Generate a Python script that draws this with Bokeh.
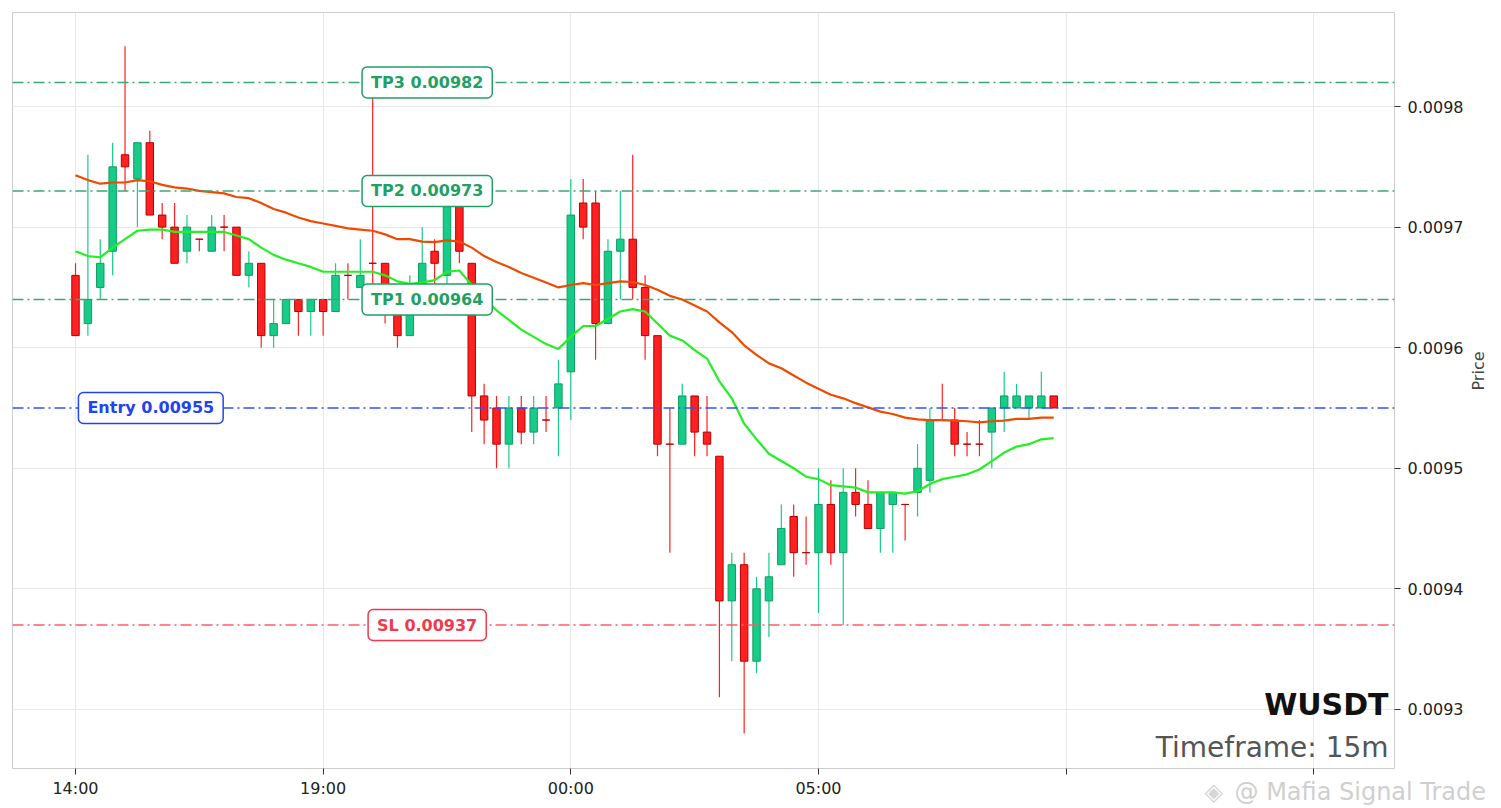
import math

import numpy as np
import pandas as pd
from bokeh.plotting import figure
from bokeh.models import ColumnDataSource, Range1d, Span, Label, FixedTicker, NumeralTickFormatter
from bokeh.embed import file_html
from bokeh.resources import INLINE


symbol = "WUSDT"
timeframe = "15m"
start = "2025-01-20 14:00"

# OHLC, in units of 0.00001
opens = [966, 962, 965, 968, 976, 974, 977, 971, 970, 968,
         969, 968, 970, 970, 966, 967, 961, 962, 964, 963,
         964, 963, 966, 965, 967, 967, 963, 961, 965, 968,
         966, 972, 967, 956, 955, 952, 955, 953, 954, 955,
         958, 972, 972, 962, 968, 969, 965, 961, 952, 952,
         956, 953, 951, 939, 942, 934, 939, 942, 946, 943,
         943, 947, 943, 948, 947, 945, 947, 947, 948, 949,
         954, 954, 952, 952, 953, 955, 955, 955, 955, 956]
highs = [967, 976, 969, 977, 985, 977, 978, 972, 972, 971,
         969, 971, 971, 970, 968, 967, 964, 964, 964, 964,
         964, 967, 967, 969, 981, 967, 963, 966, 970, 969,
         974, 973, 967, 957, 956, 956, 956, 956, 956, 959,
         974, 974, 973, 969, 973, 976, 966, 961, 955, 957,
         956, 956, 951, 943, 943, 941, 943, 947, 947, 946,
         950, 949, 950, 950, 949, 948, 948, 947, 952, 955,
         957, 955, 953, 954, 955, 958, 957, 956, 958, 956]
lows = [961, 961, 964, 966, 973, 970, 971, 969, 967, 967,
        968, 968, 968, 966, 965, 960, 960, 962, 961, 961,
        961, 963, 964, 965, 964, 962, 960, 961, 965, 965,
        965, 967, 953, 952, 950, 950, 952, 952, 953, 951,
        954, 969, 959, 962, 964, 964, 959, 951, 943, 952,
        951, 951, 931, 934, 928, 933, 936, 942, 941, 942,
        938, 942, 937, 946, 945, 943, 943, 944, 946, 948,
        954, 951, 951, 951, 950, 953, 955, 954, 955, 955]
closes = [961, 964, 967, 975, 975, 977, 971, 970, 967, 970,
          969, 970, 970, 966, 967, 961, 962, 964, 963, 964,
          963, 966, 966, 966, 967, 963, 961, 964, 967, 967,
          973, 968, 956, 954, 952, 955, 953, 955, 954, 957,
          971, 970, 962, 968, 969, 965, 961, 952, 952, 956,
          953, 952, 939, 942, 934, 940, 941, 945, 943, 943,
          947, 943, 948, 947, 945, 948, 948, 947, 950, 954,
          954, 952, 952, 952, 955, 956, 956, 956, 956, 955]

# moving averages, same units
ema_fast = [968.0, 967.6, 967.5, 968.3, 969.0, 969.7, 969.8, 969.8, 969.6, 969.6,
            969.6, 969.6, 969.6, 969.3, 969.0, 968.3, 967.7, 967.3, 967.0, 966.7,
            966.3, 966.3, 966.3, 966.3, 966.3, 966.0, 965.5, 965.3, 965.4, 965.6,
            966.3, 966.4, 965.2, 964.1, 963.1, 962.3, 961.5, 960.9, 960.3, 959.9,
            960.9, 961.8, 961.8, 962.4, 963.0, 963.2, 963.0, 962.0, 961.0, 960.6,
            959.8, 959.1, 957.2, 955.8, 953.7, 952.4, 951.2, 950.6, 950.0, 949.3,
            949.1, 948.6, 948.5, 948.4, 948.0, 948.0, 948.0, 947.9, 948.1, 948.7,
            949.1, 949.3, 949.5, 949.9, 950.6, 951.3, 951.8, 952.0, 952.4, 952.5]
ema_slow = [974.3, 973.9, 973.6, 973.7, 973.7, 973.9, 973.8, 973.5, 973.3, 973.2,
            973.0, 972.9, 972.8, 972.5, 972.4, 972.0, 971.5, 971.2, 970.8, 970.5,
            970.3, 970.1, 969.9, 969.8, 969.7, 969.4, 969.0, 969.0, 968.8, 968.75,
            968.9, 968.8, 968.3, 967.6, 967.1, 966.7, 966.2, 965.8, 965.4, 965.0,
            965.2, 965.35, 965.2, 965.35, 965.5, 965.45, 965.2, 964.8, 964.3, 964.0,
            963.5, 963.0, 962.1, 961.3, 960.2, 959.4, 958.7, 958.3, 957.7, 957.1,
            956.6, 956.1, 955.8, 955.4, 955.05, 954.7, 954.5, 954.2, 954.05, 954.0,
            954.0, 953.95, 953.9, 953.8, 953.9, 953.95, 954.1, 954.1, 954.2, 954.2]

level_names = ["TP3", "TP2", "TP1", "Entry", "SL"]
level_prices = [0.00982, 0.00973, 0.00964, 0.00955, 0.00937]

tick_times = ["2025-01-20 14:00", "2025-01-20 19:00", "2025-01-21 00:00",
              "2025-01-21 05:00", "2025-01-21 10:00", "2025-01-21 15:00"]
tick_labels = ["14:00", "19:00", "00:00", "05:00", "", ""]
price_ticks = [0.0093, 0.0094, 0.0095, 0.0096, 0.0097, 0.0098]

watermark = "@ Mafia Signal Trade"


def ms(ts):
    return int(pd.Timestamp(ts).value // 10**6)


unit = 1e-5
t = pd.date_range(start, periods=len(opens), freq="15min")
o = np.array(opens) * unit
h = np.array(highs) * unit
l = np.array(lows) * unit
c = np.array(closes) * unit
up = c > o

t0 = ms(start)
hour = 3600 * 1000

p = figure(x_axis_type="datetime", y_axis_location="right",
           frame_width=1382, frame_height=756,
           x_range=Range1d(t0 - 1.272 * hour, t0 + 26.63 * hour),
           y_range=Range1d(0.009251, 0.009878),
           min_border_left=12, min_border_top=12, min_border_right=0, min_border_bottom=0,
           toolbar_location=None, output_backend="svg")

p.background_fill_color = "white"
p.outline_line_color = "#cccccc"
p.xgrid.grid_line_color = "#e8e8e8"
p.ygrid.grid_line_color = "#e8e8e8"

# candles
green_fill, green_edge = "#17cc88", "#0f9e62"
red_fill, red_edge = "#ff2121", "#b40000"

for mask, fill, edge in [(up, green_fill, green_edge), (~up, red_fill, red_edge)]:
    src = ColumnDataSource(dict(t=t[mask], o=o[mask], h=h[mask], l=l[mask], c=c[mask],
                                top=np.maximum(o, c)[mask], bot=np.minimum(o, c)[mask]))
    p.segment(x0="t", y0="l", x1="t", y1="h", source=src, line_color=fill, line_width=1.2)
    p.vbar(x="t", width=15 * 60 * 1000 * 0.6, top="top", bottom="bot", source=src,
           fill_color=fill, line_color=edge, line_width=1)

# moving averages
p.line(t, np.array(ema_slow) * unit, line_color="#f04a00", line_width=2.2)
p.line(t, np.array(ema_fast) * unit, line_color="#22f022", line_width=2.2)

# trade levels
level_line = {"TP3": "#3aa874", "TP2": "#3aa874", "TP1": "#3aa874", "Entry": "#3050ff", "SL": "#ff5a6a"}
level_text = {"TP3": "#22a064", "TP2": "#22a064", "TP1": "#22a064", "Entry": "#2244ee", "SL": "#f03a4c"}
label_at = {"TP3": 21.1, "TP2": 21.1, "TP1": 21.1, "Entry": 15.52, "SL": 21.1}

for name, price in zip(level_names, level_prices):
    p.add_layout(Span(location=price, dimension="width", line_color=level_line[name],
                      line_width=1.4, line_dash="11 4 2 4"))
    hrs = label_at[name] - 14
    p.add_layout(Label(x=t0 + hrs * hour, y=price, text=f"{name} {price:.5f}",
                       text_align="center", text_baseline="middle",
                       text_font="DejaVu Sans", text_font_size="16px", text_font_style="bold",
                       text_color=level_text[name],
                       background_fill_color="white", border_line_color=level_text[name],
                       border_line_width=1.5, padding=(9, 6), border_radius=5))

# titles in the corner
p.add_layout(Label(x=t0 + 26.51 * hour, y=0.0093041, text=symbol, text_align="right",
                   text_baseline="alphabetic", text_font="DejaVu Sans", text_font_size="30px",
                   text_font_style="bold", text_color="#111111"))
p.add_layout(Label(x=t0 + 26.51 * hour, y=0.0092688, text=f"Timeframe: {timeframe}",
                   text_align="right", text_baseline="alphabetic", text_font="DejaVu Sans",
                   text_font_size="28px", text_color="#555555"))

# watermark over the bottom right corner, placed in canvas pixels so the frame does not clip it
p.add_layout(Label(x=1204, y=791, x_units="canvas", y_units="canvas", text="◈",
                   text_align="left", text_baseline="alphabetic",
                   text_font="DejaVu Sans", text_font_size="24px", text_color="#d6d6d6"), "below")
p.add_layout(Label(x=1234, y=791, x_units="canvas", y_units="canvas", text=watermark,
                   text_align="left", text_baseline="alphabetic",
                   text_font="DejaVu Sans", text_font_size="24px", text_color="#cfcfcf"), "below")

# axes
p.xaxis.ticker = FixedTicker(ticks=[ms(x) for x in tick_times])
p.xaxis.major_label_overrides = {ms(x): lab for x, lab in zip(tick_times, tick_labels)}
p.yaxis.ticker = FixedTicker(ticks=price_ticks)
p.yaxis.formatter = NumeralTickFormatter(format="0.0000")
p.yaxis.axis_label = "Price"
p.yaxis.axis_label_text_font_style = "normal"
p.yaxis.axis_label_text_font_size = "16px"
p.yaxis.axis_label_text_font = "DejaVu Sans"
p.yaxis.axis_label_standoff = 12
if hasattr(p.yaxis[0], "axis_label_orientation"):
    p.yaxis.axis_label_orientation = math.pi / 2

for ax in (p.xaxis, p.yaxis):
    ax.axis_line_color = None
    ax.major_tick_line_color = "#333333"
    ax.major_tick_in = 0
    ax.major_tick_out = 6
    ax.minor_tick_line_color = None
    ax.major_label_text_font = "DejaVu Sans"
    ax.major_label_text_font_size = "16px"
    ax.major_label_text_color = "#222222"
p.yaxis.major_label_standoff = 7
p.xaxis.major_label_standoff = 4

open("out.html", "w").write(file_html(p, INLINE))
